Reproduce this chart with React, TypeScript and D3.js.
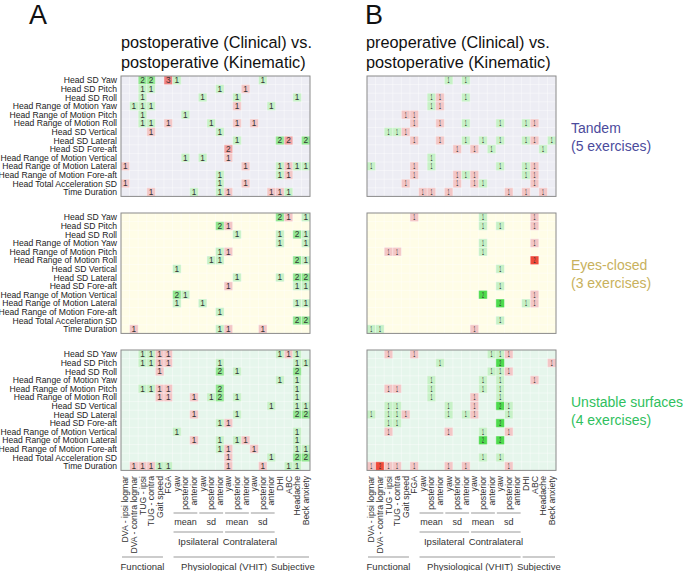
import React from "react";
import * as d3 from "d3";

// row (kinematic) and column (clinical) labels
const rowLabels = [
  "Head SD Yaw",
  "Head SD Pitch",
  "Head SD Roll",
  "Head Range of Motion Yaw",
  "Head Range of Motion Pitch",
  "Head Range of Motion Roll",
  "Head SD Vertical",
  "Head SD Lateral",
  "Head SD Fore-aft",
  "Head Range of Motion Vertical",
  "Head Range of Motion Lateral",
  "Head Range of Motion Fore-aft",
  "Head Total Acceleration SD",
  "Time Duration",
];

const colLabels = [
  "DVA - ipsi logmar",
  "DVA - contra logmar",
  "TUG - ipsi",
  "TUG - contra",
  "Gait speed",
  "FGA",
  "yaw", "posterior", "anterior",
  "yaw", "posterior", "anterior",
  "yaw", "posterior", "anterior",
  "yaw", "posterior", "anterior",
  "DHI",
  "ABC",
  "Headache",
  "Beck anxiety",
];

// [from col, to col, label]
const subGroups: [number, number, string][] = [
  [6, 8, "mean"], [9, 11, "sd"], [12, 14, "mean"], [15, 17, "sd"],
];
const sideGroups: [number, number, string][] = [
  [6, 11, "Ipsilateral"], [12, 17, "Contralateral"],
];
const mainGroups: [number, number, string][] = [
  [0, 4, "Functional"], [6, 17, "Physiological (VHIT)"], [18, 21, "Subjective"],
];

const conditions = ["Tandem", "Eyes-closed", "Unstable surfaces"];
const exerciseCounts = ["(5 exercises)", "(3 exercises)", "(4 exercises)"];

// significant correlations: [row, col, count]  (+ green, - red)
const postTandem = [
  [0, 2, 2], [0, 3, 2], [0, 5, -3], [0, 6, 1], [0, 16, 1],
  [1, 2, 1], [1, 3, 1], [1, 11, 1], [1, 14, -1],
  [2, 2, 1], [2, 9, 1], [2, 13, 1], [2, 20, 1],
  [3, 1, 1], [3, 2, 1], [3, 3, 1], [3, 13, -1], [3, 17, 1],
  [4, 2, 1], [4, 7, 1],
  [5, 2, 1], [5, 3, 1], [5, 5, -1], [5, 10, 1], [5, 13, -1], [5, 15, -1],
  [6, 3, -1], [6, 11, 1],
  [7, 13, 1], [7, 18, 2], [7, 19, -2], [7, 21, 2],
  [8, 12, -2],
  [9, 7, 1], [9, 9, 1], [9, 12, -1],
  [10, 0, -1], [10, 14, -1], [10, 18, 1], [10, 19, -1], [10, 20, 1], [10, 21, 1],
  [11, 11, 1], [11, 18, 1], [11, 19, -1],
  [12, 0, -1], [12, 11, 1], [12, 14, -1],
  [13, 3, -1], [13, 8, 1], [13, 11, 1], [13, 12, -1], [13, 17, -1], [13, 18, -1], [13, 19, 1],
];

const postEyes = [
  [0, 18, 2], [0, 19, -1], [0, 21, 1],
  [1, 11, 2], [1, 12, -1],
  [2, 13, 1], [2, 18, 1], [2, 20, 2], [2, 21, 1],
  [3, 18, 1], [3, 21, 1],
  [4, 11, 1], [4, 12, -1],
  [5, 10, 1], [5, 11, 1], [5, 20, 2], [5, 21, 1],
  [6, 6, 1],
  [7, 13, 1], [7, 18, 1], [7, 20, 2], [7, 21, 2],
  [8, 12, -1], [8, 20, 1], [8, 21, 1],
  [9, 6, 2], [9, 7, 1],
  [10, 6, 1], [10, 9, 1], [10, 20, 1], [10, 21, 1],
  [11, 11, 1],
  [12, 20, 2], [12, 21, 2],
  [13, 1, -1], [13, 11, 1], [13, 12, -1], [13, 16, -1],
];

const postUnstable = [
  [0, 2, 1], [0, 3, 1], [0, 4, -1], [0, 5, -1], [0, 18, 1], [0, 19, -1], [0, 20, 1],
  [1, 2, 1], [1, 3, 1], [1, 4, -1], [1, 5, -1], [1, 11, 1], [1, 20, 1], [1, 21, 1],
  [2, 4, -1], [2, 11, 2], [2, 13, 1], [2, 20, 2],
  [3, 18, 1], [3, 20, 1],
  [4, 2, 1], [4, 3, 1], [4, 4, -1], [4, 5, -1], [4, 11, 2], [4, 20, 1],
  [5, 4, -1], [5, 5, -1], [5, 8, -1], [5, 10, 1], [5, 11, 2], [5, 13, 1], [5, 20, 1],
  [6, 17, 1], [6, 20, 1], [6, 21, 1],
  [7, 8, -1], [7, 13, 1], [7, 20, 2], [7, 21, 2],
  [8, 11, 1], [8, 12, -1],
  [9, 6, 1], [9, 20, 1],
  [10, 8, -1], [10, 11, 1], [10, 13, 1], [10, 14, -1], [10, 20, 1],
  [11, 11, 1], [11, 12, -1], [11, 15, -1], [11, 20, 1], [11, 21, 1],
  [12, 12, -1], [12, 17, 1], [12, 20, 2], [12, 21, 2],
  [13, 1, -1], [13, 2, -1], [13, 3, -1], [13, 4, 1], [13, 5, 1], [13, 12, -1], [13, 16, -1], [13, 19, 1], [13, 20, 1],
];

const preTandem = [
  [0, 9, 1], [0, 11, 1],
  [2, 7, 1], [2, 8, -1], [2, 11, 1],
  [3, 7, 1], [3, 8, -1],
  [4, 4, -1], [4, 5, -1],
  [5, 5, -1], [5, 8, -1], [5, 11, 1], [5, 15, 1], [5, 18, 1], [5, 19, -1],
  [6, 2, 1], [6, 3, 1], [6, 4, -1],
  [7, 5, -1], [7, 8, -1], [7, 11, 1], [7, 13, 1], [7, 15, 1], [7, 18, 1], [7, 19, -1], [7, 21, 1],
  [8, 10, -1], [8, 12, -1], [8, 14, 1], [8, 20, 1],
  [9, 7, 1],
  [10, 0, 1], [10, 5, -1], [10, 7, 1], [10, 15, 1], [10, 18, 1], [10, 19, -1],
  [11, 5, -1], [11, 10, -1], [11, 11, 1], [11, 12, -1], [11, 18, 1], [11, 19, -1],
  [12, 4, -1], [12, 10, -1], [12, 12, -1], [12, 13, 1], [12, 19, -1],
  [13, 6, -1], [13, 7, -1], [13, 9, -1], [13, 16, -1], [13, 18, -1], [13, 20, -1],
];

const preEyes = [
  [0, 5, -1], [0, 13, 1], [0, 19, -1],
  [1, 13, 1], [1, 15, 1], [1, 19, -1],
  [3, 13, 1], [3, 19, -1],
  [4, 2, -1], [4, 3, -1], [4, 13, 1],
  [5, 19, -2],
  [6, 15, 1],
  [8, 15, 1],
  [9, 13, 2], [9, 19, -1],
  [10, 15, 2], [10, 18, 1], [10, 19, -1],
  [12, 15, 1],
  [13, 0, 1], [13, 1, 1], [13, 12, -1],
];

const preUnstable = [
  [0, 2, -1], [0, 5, -1], [0, 14, 1], [0, 15, 1], [0, 16, -1],
  [1, 8, 1], [1, 15, 2], [1, 21, -1],
  [2, 14, 1], [2, 15, 1], [2, 16, -1],
  [3, 7, 1], [3, 13, 1], [3, 15, 1], [3, 19, -1],
  [4, 2, -1], [4, 3, -1], [4, 7, 1], [4, 13, 1], [4, 15, 1],
  [5, 7, 1], [5, 12, -1], [5, 15, 1],
  [6, 2, 1], [6, 3, 1], [6, 9, 1], [6, 12, -1], [6, 15, 2], [6, 16, 1],
  [7, 0, 1], [7, 2, 1], [7, 3, 1], [7, 4, -1], [7, 9, 1], [7, 11, 1], [7, 12, -1], [7, 16, 1],
  [8, 2, 1], [8, 3, 1], [8, 15, 2],
  [9, 2, -1], [9, 9, -1], [9, 13, 1], [9, 16, -1],
  [10, 13, 2], [10, 15, 2],
  [12, 13, 1], [12, 15, 1],
  [13, 0, -1], [13, 1, -2], [13, 2, -1], [13, 3, -1], [13, 5, -1], [13, 9, -1], [13, 11, -1], [13, 16, -1],
];

const FONT = "'Liberation Sans', Arial, sans-serif";
const panelBg = ["#ededf4", "#fffde7", "#e6f6ec"];
const sideColors = ["#4b4b9c", "#c8b15c", "#2fbf5e"];
const panelTops = [76, 213, 350];
const panelH = 120.4;

type GridProps = {
  x0: number;
  x1: number;
  cells: number[][][];
  small: boolean;
  maxV: number;
  greenEnd: string;
  redEnd: string;
};

function Grid({ x0, x1, cells, small, maxV, greenEnd, redEnd }: GridProps) {
  const x = d3.scaleBand<number>().domain(d3.range(colLabels.length)).range([x0, x1]);
  const green = d3.scaleLinear<string>().domain([1, maxV]).range(["#c6f1c6", greenEnd]);
  const red = d3.scaleLinear<string>().domain([1, maxV]).range(["#f3c6c6", redEnd]);
  return (
    <g>
      {cells.map((list, p) => {
        const y = d3.scaleBand<number>().domain(d3.range(rowLabels.length)).range([panelTops[p], panelTops[p] + panelH]);
        return (
          <g key={p}>
            <rect x={x0} y={panelTops[p]} width={x1 - x0} height={panelH} fill={panelBg[p]} />
            {list.map(([r, c, v], i) => (
              <rect key={i} x={x(c)!} y={y(r)!} width={x.bandwidth()} height={y.bandwidth()}
                fill={v > 0 ? green(v) : red(-v)} />
            ))}
            {d3.range(1, colLabels.length).map((c) => (
              <line key={"v" + c} x1={x(c)!} x2={x(c)!} y1={panelTops[p]} y2={panelTops[p] + panelH}
                stroke="#fff" strokeOpacity={0.7} strokeWidth={0.6} />
            ))}
            {d3.range(1, rowLabels.length).map((r) => (
              <line key={"h" + r} x1={x0} x2={x1} y1={y(r)!} y2={y(r)!}
                stroke="#fff" strokeOpacity={0.7} strokeWidth={0.6} />
            ))}
            {list.map(([r, c, v], i) => {
              const cx = x(c)! + x.bandwidth() / 2;
              const cy = y(r)! + y.bandwidth() / 2;
              return small ? (
                <text key={"t" + i} transform={`translate(${cx},${cy}) scale(0.42,1)`} textAnchor="middle"
                  dy="0.35em" fontSize={8.5} fill="#333" fontFamily={FONT}>{Math.abs(v)}</text>
              ) : (
                <text key={"t" + i} x={cx} y={cy} textAnchor="middle" dy="0.36em" fontSize={8.3}
                  fill="#333" fontFamily={FONT}>{Math.abs(v)}</text>
              );
            })}
            <rect x={x0} y={panelTops[p]} width={x1 - x0} height={panelH} fill="none" stroke="#8a8a8a" strokeWidth={1} />
          </g>
        );
      })}
      {colLabels.map((lab, c) => (
        <text key={"c" + c} transform={`translate(${x(c)! + x.bandwidth() / 2},476) rotate(-90)`}
          textAnchor="end" dy="0.35em" fontSize={8.7} fill="#333" fontFamily={FONT}>{lab}</text>
      ))}
      {[
        { groups: subGroups, ly: 513, ty: 525 },
        { groups: sideGroups, ly: 532, ty: 545 },
        { groups: mainGroups, ly: 557, ty: 570 },
      ].map(({ groups, ly, ty }, k) =>
        groups.map(([a, b, lab], i) => (
          <g key={k + "-" + i}>
            <line x1={x(a)! + 1} x2={x(b)! + x.bandwidth() - 1} y1={ly} y2={ly} stroke="#999" strokeWidth={1} />
            <text x={(x(a)! + x(b)! + x.bandwidth()) / 2} y={ty} textAnchor="middle" fontSize={k === 0 ? 9 : 9.5}
              fill="#333" fontFamily={FONT}>{lab}</text>
          </g>
        ))
      )}
    </g>
  );
}

export default function App() {
  const yRow = d3.scaleBand<number>().domain(d3.range(rowLabels.length));
  return (
    <svg width={685} height={571} style={{ position: "absolute", left: 0, top: 0, background: "#fff" }}>
      <text x={29} y={24} fontSize={27} fontFamily={FONT} fill="#111">A</text>
      <text x={365} y={24} fontSize={27} fontFamily={FONT} fill="#111">B</text>
      <text x={121} y={48} fontSize={16.3} fontFamily={FONT} fill="#111">postoperative (Clinical) vs.</text>
      <text x={121} y={68} fontSize={16.3} fontFamily={FONT} fill="#111">postoperative (Kinematic)</text>
      <text x={366} y={48} fontSize={16.3} fontFamily={FONT} fill="#111">preoperative (Clinical) vs.</text>
      <text x={366} y={68} fontSize={16.3} fontFamily={FONT} fill="#111">postoperative (Kinematic)</text>

      {panelTops.map((top, p) => {
        yRow.range([top, top + panelH]);
        return (
          <g key={p}>
            {rowLabels.map((lab, r) => (
              <text key={r} x={117} y={yRow(r)! + yRow.bandwidth() / 2} dy="0.35em" textAnchor="end"
                fontSize={8.6} fill="#222" fontFamily={FONT}>{lab}</text>
            ))}
            <text x={571} y={top + 57} fontSize={14} fill={sideColors[p]} fontFamily={FONT}>{conditions[p]}</text>
            <text x={571} y={top + 75} fontSize={14} fill={sideColors[p]} fontFamily={FONT}>{exerciseCounts[p]}</text>
          </g>
        );
      })}

      <Grid x0={121} x1={310} cells={[postTandem, postEyes, postUnstable]} small={false}
        maxV={3} greenEnd="#5edc5e" redEnd="#ef7f7f" />
      <Grid x0={367} x1={556} cells={[preTandem, preEyes, preUnstable]} small={true}
        maxV={2} greenEnd="#4ddb4d" redEnd="#f04a3a" />
    </svg>
  );
}
